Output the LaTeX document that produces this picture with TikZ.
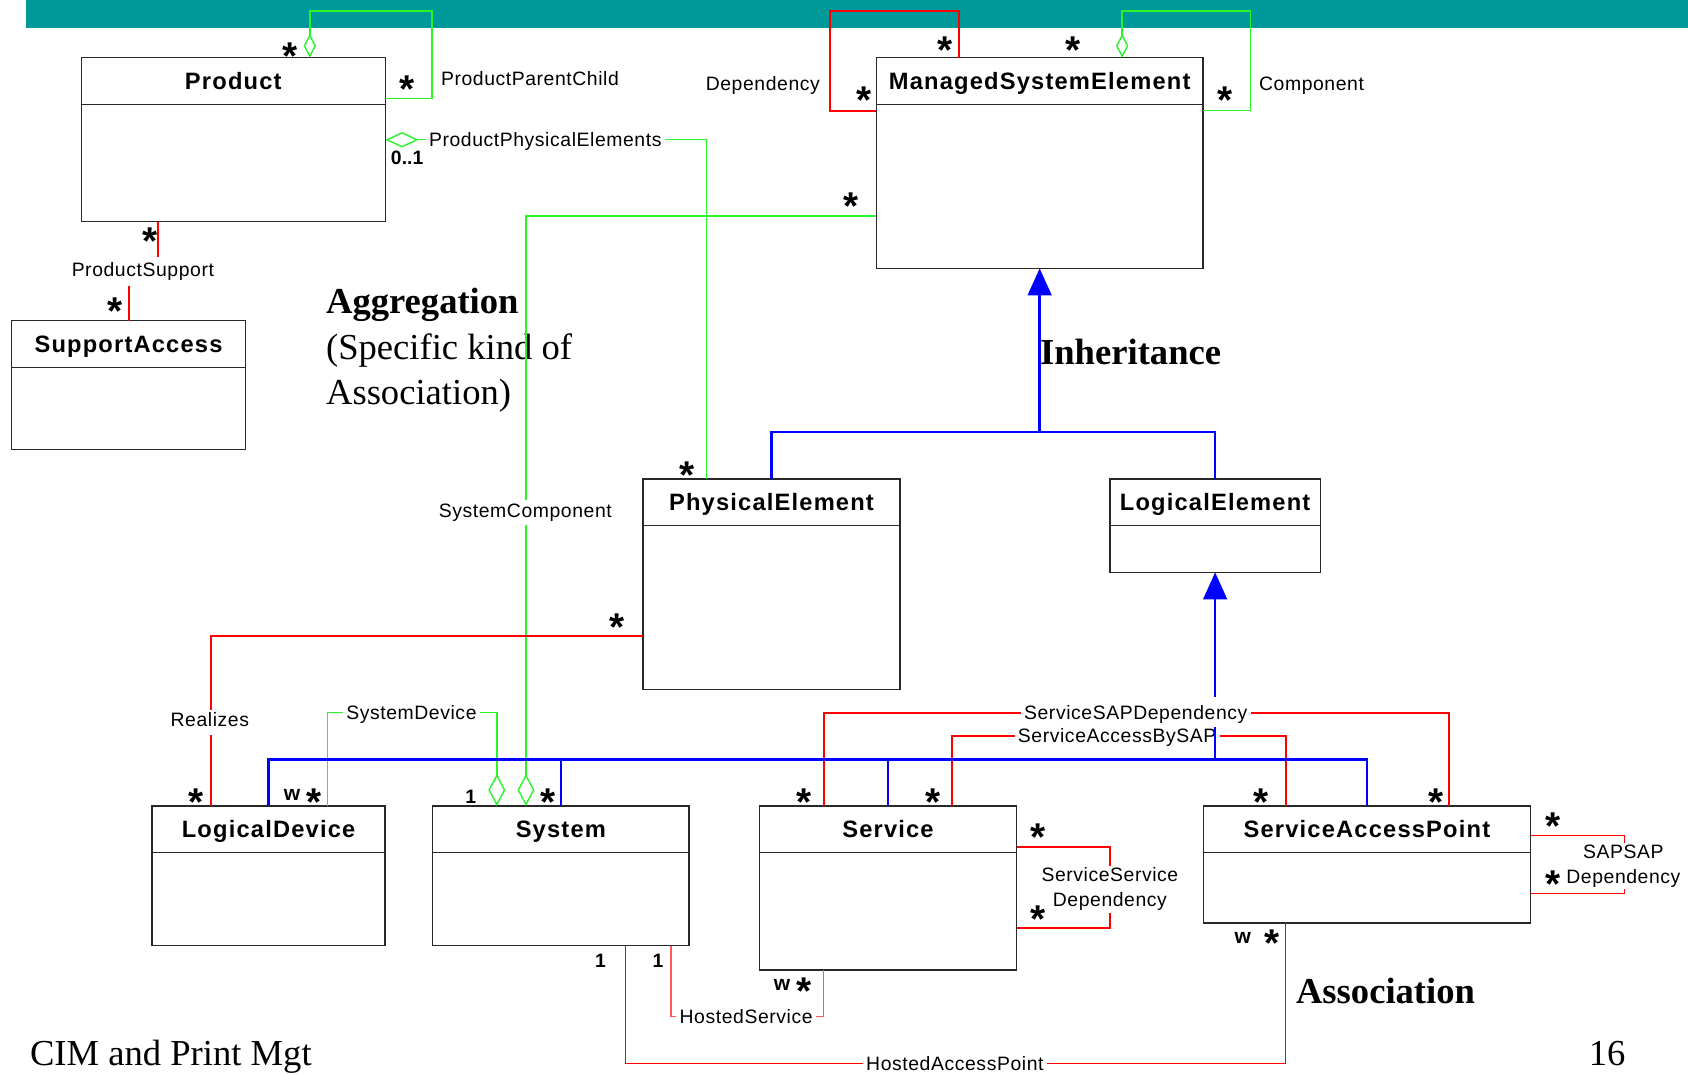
\documentclass[tikz,border=0pt]{standalone}
\usepackage{fontspec}
\setmainfont{Liberation Serif}
\newfontfamily\clsfont[LetterSpace=5]{Liberation Sans}
\newfontfamily\lblfont[LetterSpace=3]{Liberation Sans}
\newfontfamily\sansplain{Liberation Sans}
\usetikzlibrary{arrows.meta,calc}
\definecolor{tealbar}{RGB}{0,153,153}
\definecolor{lgreen}{RGB}{40,245,40}
\definecolor{ured}{RGB}{255,0,0}
\definecolor{ublue}{RGB}{0,0,255}
\definecolor{boxc}{RGB}{40,40,40}
\tikzset{
  classbox/.style={draw=boxc, line width=1.4pt, inner sep=0pt, outer sep=0pt, anchor=north west},
  classline/.style={draw=boxc, line width=1.4pt},
  classname/.style={font=\clsfont\bfseries\fontsize{22}{26}\selectfont, anchor=base, yshift=-8pt, inner sep=0pt},
  grn/.style={draw=lgreen, line width=1.3pt},
  rd/.style={draw=ured, line width=1.8pt},
  rdl/.style={draw=ured!65, line width=1.4pt},
  blu/.style={draw=ublue, line width=2.2pt},
  aggv/.style={-{Diamond[length=22pt,width=11.6pt,fill=white]}},
  aggvb/.style={-{Diamond[length=29.7pt,width=15.8pt,fill=white]}},
  aggh/.style={-{Diamond[length=31pt,width=14.3pt,fill=white]}},
  inh/.style={-{Triangle[length=25pt,width=22pt]}},
  lbl/.style={font=\lblfont\fontsize{18}{21}\selectfont, anchor=base, yshift=-6.5pt, inner sep=3pt, fill=white, text height=13pt, text depth=4pt},
  lbltwo/.style={font=\lblfont\fontsize{18}{23}\selectfont, anchor=center, inner sep=2pt, fill=white, align=center},
  mult/.style={font=\sansplain\bfseries\fontsize{36}{36}\selectfont, inner sep=0pt, anchor=center, text height=25.8pt, text depth=-14.8pt, yshift=-5.5pt},
  multw/.style={font=\sansplain\bfseries\fontsize{19.5}{19.5}\selectfont, inner sep=0pt, anchor=center},
  multone/.style={font=\sansplain\bfseries\fontsize{18}{18}\selectfont, inner sep=0pt, anchor=center},
  bigtext/.style={anchor=base west, inner sep=0pt, font=\fontsize{34}{40}\selectfont},
  bigbold/.style={anchor=base west, inner sep=0pt, font=\fontsize{34}{40}\selectfont\bfseries}
}
\newcommand\umlclass[6]{%
  \node[classbox, minimum width=#4pt, minimum height=#5pt] (#1) at (#2,#3) {};
  \node[classname] (#1t) at ($(#1.north)+(0,21.6)$) {#6};
  \draw[classline] ($(#1.north west)+(0,43.3)$) -- ($(#1.north east)+(0,43.3)$);
}
\newcommand\lblnode[4]{\node[lbl] (#1) at (#2,#3) {#4};}
\newcommand\mulstar[3]{\node[mult] (#1) at (#2,#3) {*};}
\begin{document}
\begin{tikzpicture}[x=1pt,y=-1pt]
\useasboundingbox (0,0) rectangle (1568,998);
\fill[tealbar] (24,0) rectangle (1568,25.7);

% big texts
\node[bigbold] (agg1) at (302.7,291) {Aggregation};
\node[bigtext] (agg2) at (302.7,333.5) {(Specific kind of};
\node[bigtext] (agg3) at (302.7,375.3) {Association)};
\node[bigbold] (inhtxt) at (966,338.5) {Inheritance};
\node[bigbold] (asstxt) at (1203.7,932) {Association};
\node[bigtext] (foot) at (27.7,990.2) {CIM and Print Mgt};
\node[bigtext] (pageno) at (1475.7,989.3) {16};

% classes
\umlclass{prod}{75.5}{53.6}{282.4}{152.3}{Product}
\umlclass{sa}{10.8}{297.9}{217.2}{119.5}{SupportAccess}
\umlclass{mse}{814}{53.6}{303.5}{195.7}{ManagedSystemElement}
\umlclass{pe}{597.3}{445}{238.7}{195.3}{PhysicalElement}
\umlclass{le}{1031}{445}{195.5}{86.7}{LogicalElement}
\umlclass{ld}{141.2}{748.7}{216.6}{129.8}{LogicalDevice}
\umlclass{sys}{401.8}{748.7}{238.4}{129.8}{System}
\umlclass{svc}{705.4}{748.7}{238.9}{152.1}{Service}
\umlclass{sap}{1117.7}{748.7}{304.1}{108.7}{ServiceAccessPoint}

% green associations (aggregations)
\draw[grn, aggv] (prod.east |- 0,91.7) -- (401.4,91.7) -- (401.4,10.2) -- (287.8,10.2) -- (prod.north -| 287.8,0);
\draw[grn, aggh] (pe.north -| 656,0) -- (656,129.8) -- (prod.east |- 0,129.8);
\draw[grn, aggv] (mse.east |- 0,102.8) -- (1161.7,102.8) -- (1161.7,10.2) -- (1042.4,10.2) -- (mse.north -| 1042.4,0);
\draw[grn, aggvb] (mse.west |- 0,200.6) -- (488.6,200.6) -- (sys.north -| 488.6,0);
\draw[grn, aggvb] (ld.north -| 304.1,0) -- (304.1,662) -- (461.5,662) -- (sys.north -| 461.5,0);

% red associations
\draw[rd] (prod.south -| 146.4,0) -- (146.4,238.4) (119.8,265.4) -- (sa.north -| 119.8,0);
\draw[rd] (mse.west |- 0,102.8) -- (770.8,102.8) -- (770.8,10.2) -- (890.6,10.2) -- (mse.north -| 890.6,0);
\draw[rd] (pe.west |- 0,590.8) -- (195.7,590.8) -- (ld.north -| 195.7,0);
\draw[rd] (svc.north -| 765.1,0) -- (765.1,662) -- (1346.2,662) -- (sap.north -| 1346.2,0);
\draw[rd] (svc.north -| 884.6,0) -- (884.6,683.5) -- (1194.2,683.5) -- (sap.north -| 1194.2,0);
\draw[rd] (svc.east |- 0,786.5) -- (1031,786.5) -- (1031,862.4) -- (svc.east |- 0,862.4);
\draw[rd, line width=1.4pt] (sap.east |- 0,776) -- (1508.8,776) -- (1508.8,830) -- (sap.east |- 0,830);
\draw[rdl] (sys.south -| 623.1,0) -- (623.1,944.4) -- (765.1,944.4) -- (svc.south -| 765.1,0);
\draw[rd, line width=1.3pt] (sys.south -| 580.9,0) -- (580.9,987.7) -- (1194.2,987.7) -- (sap.south -| 1194.2,0);

% labels
\lblnode{lPPC}{492.3}{72.8}{ProductParentChild}
\lblnode{lPPE}{506.5}{129.4}{ProductPhysicalElements}
\lblnode{lPS}{132.7}{250.8}{ProductSupport}
\lblnode{lDep}{708.6}{78}{Dependency}
\lblnode{lComp}{1218.3}{78}{Component}
\lblnode{lSC}{488}{473.8}{SystemComponent}
\lblnode{lReal}{194.9}{668.8}{Realizes}
\lblnode{lSD}{382.2}{662}{SystemDevice}
\lblnode{lSSAP}{1055}{662}{ServiceSAPDependency}
\lblnode{lSABS}{1037.7}{683.5}{ServiceAccessBySAP}
\lblnode{lHS}{693.1}{944.4}{HostedService}
\lblnode{lHAP}{887}{987.7}{HostedAccessPoint}
\node[lbltwo] (lSSD) at (1031,826) {ServiceService\\Dependency};
\node[lbltwo] (lSAPD) at (1508,804.6) {SAPSAP\\Dependency};

% inheritance
\draw[blu] (pe.north) |- (le.north |- 0,401.3) -- (le.north);
\draw[blu, inh] (mse.south |- 0,401.3) -- (mse.south);
\draw[blu, inh] (le.south |- 0,647) -- (le.south);
\draw[blu] (le.south |- 0,675) -- (le.south |- 0,705.4);
\draw[blu] (ld.north) |- (sap.north |- 0,705.4) -- (sap.north);
\draw[blu] (sys.north |- 0,705.4) -- (sys.north);
\draw[blu] (svc.north |- 0,705.4) -- (svc.north);

% multiplicities
\mulstar{m1}{269.5}{46.4}
\mulstar{m2}{378.2}{76.8}
\mulstar{m3}{139.7}{218.3}
\mulstar{m4}{107}{283.3}
\mulstar{m5}{877.5}{40.3}
\mulstar{m6}{996.8}{40.3}
\mulstar{m7}{802.4}{87.3}
\mulstar{m8}{1138.2}{87.3}
\mulstar{m9}{790.8}{185.8}
\mulstar{m10}{638.6}{435}
\mulstar{m11}{573.5}{576.6}
\mulstar{m12}{182.5}{739.4}
\mulstar{m13}{291.7}{739.4}
\mulstar{m14}{508.8}{739.4}
\mulstar{m15}{746.9}{739.4}
\mulstar{m16}{866.7}{739.4}
\mulstar{m17}{963.8}{771.6}
\mulstar{m18}{963.8}{847.5}
\mulstar{m19}{746.9}{915}
\mulstar{m20}{1171}{739.4}
\mulstar{m21}{1333.5}{739.4}
\mulstar{m22}{1442.2}{761}
\mulstar{m23}{1442.2}{815.3}
\mulstar{m24}{1181.5}{870.1}
\node[multw] (w1) at (271.2,738.5) {w};
\node[multw] (w2) at (726.5,915) {w};
\node[multw] (w3) at (1154.4,871.6) {w};
\node[multone] (o1) at (437.2,740) {1};
\node[multone] (o2) at (557.9,892.4) {1};
\node[multone] (o3) at (611.2,892.4) {1};
\node[multone] (o4) at (378.2,146.2) {0..1};
\end{tikzpicture}
\end{document}
